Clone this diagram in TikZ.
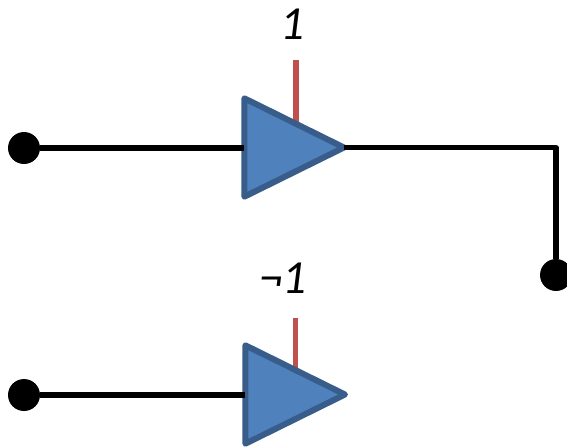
\documentclass[tikz,border=0pt]{standalone}
\usepackage{fontspec}
\setmainfont{Carlito}
\usetikzlibrary{shapes.geometric}
\definecolor{bufblue}{HTML}{4F81BD}
\definecolor{bufedge}{HTML}{385D8A}
\definecolor{ctlred}{HTML}{C0504D}
\tikzset{
    wire/.style={line width=2.9pt},
    ctlwire/.style={line width=2.9pt,color=ctlred},
    dot/.style={circle,fill=black,minimum size=18.2pt,inner sep=0pt},
    buffer/.style={isosceles triangle,isosceles triangle apex angle=53,isosceles triangle stretches,
        minimum width=56pt,minimum height=56.7pt,inner sep=0pt,outer sep=0pt,
        fill=bufblue,draw=bufedge,line width=3.4pt,line join=round,anchor=apex},
    ctllabel/.style={font=\fontsize{27}{27}\selectfont\itshape,inner sep=0pt}
}
\begin{document}
\begin{tikzpicture}[x=0.02cm,y=-0.02cm]
    \useasboundingbox (0,0) rectangle (567,447);
    %upper gate
    \coordinate (ctla) at (296,60);
    \node[dot] (ina) at (24,148) {};
    \node[dot] (outa) at (556,275) {};
    \draw[ctlwire] (ctla) -- (296,125);
    \node[buffer] (bufa) at (344,147.5) {};
    \draw[wire] (ina) -- (bufa.west |- ina);
    \draw[wire,line join=round] (bufa.apex) -- (556,147.5) -- (outa);
    \node[ctllabel] (laba) at (293,24) {1};
    %lower gate
    \coordinate (ctlb) at (295.5,318);
    \node[dot] (inb) at (24,395) {};
    \draw[ctlwire] (ctlb) -- (295.5,372);
    \node[buffer] (bufb) at (345,394.5) {};
    \draw[wire] (inb) -- (bufb.west |- inb);
    \node[ctllabel] (labb) at (283,278) {¬1};
\end{tikzpicture}
\end{document}
